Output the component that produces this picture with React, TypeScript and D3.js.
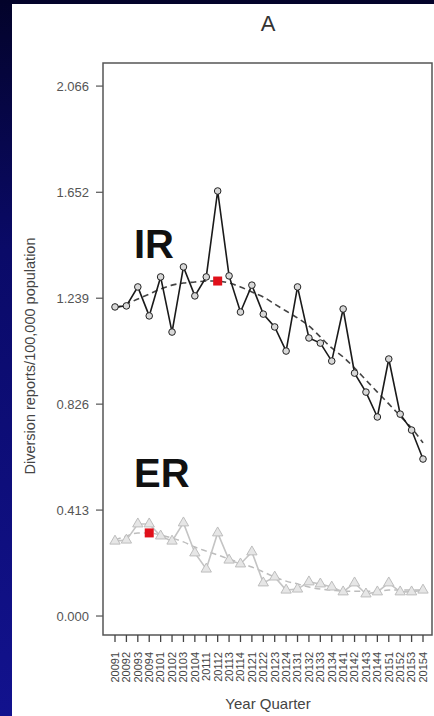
import React from "react";
import * as d3 from "d3";

const quarters = [
  "20091","20092","20093","20094",
  "20101","20102","20103","20104",
  "20111","20112","20113","20114",
  "20121","20122","20123","20124",
  "20131","20132","20133","20134",
  "20141","20142","20143","20144",
  "20151","20152","20153","20154",
];

const irValues = [
  1.205, 1.209, 1.283, 1.170, 1.322, 1.107, 1.361, 1.248,
  1.322, 1.657, 1.326, 1.185, 1.290, 1.177, 1.127, 1.033,
  1.283, 1.084, 1.064, 0.994, 1.197, 0.947, 0.873, 0.776,
  1.002, 0.787, 0.725, 0.612,
];

const irTrend = [
  1.201, 1.216, 1.236, 1.255, 1.275, 1.290, 1.298, 1.302,
  1.306, 1.306, 1.298, 1.283, 1.263, 1.244, 1.216, 1.189,
  1.162, 1.131, 1.088, 1.045, 1.010, 0.967, 0.920, 0.873,
  0.827, 0.780, 0.733, 0.675,
];

const erValues = [
  0.292, 0.296, 0.359, 0.359, 0.312, 0.292, 0.363, 0.246,
  0.183, 0.324, 0.218, 0.203, 0.250, 0.129, 0.152, 0.101,
  0.105, 0.133, 0.125, 0.113, 0.094, 0.129, 0.086, 0.094,
  0.129, 0.094, 0.094, 0.101,
];

const erTrend = [
  0.296, 0.312, 0.324, 0.324, 0.316, 0.304, 0.289, 0.269,
  0.253, 0.238, 0.222, 0.207, 0.191, 0.172, 0.152, 0.136,
  0.125, 0.113, 0.105, 0.101, 0.097, 0.097, 0.097, 0.097,
  0.101, 0.101, 0.101, 0.101,
];

const yTicks = [0.0, 0.413, 0.826, 1.239, 1.652, 2.066];
const irPeakIndex = 9;
const erPeakIndex = 3;
const irPeak = 1.306;
const erPeak = 0.324;

export default function App() {
  const W = 434;
  const H = 716;
  const box = { left: 103, top: 63, right: 432, bottom: 635 };

  const x = d3.scalePoint<string>().domain(quarters).range([115, 423]);
  const y = d3.scaleLinear().domain([-0.074, 2.156]).range([box.bottom, box.top]);

  const line = d3
    .line<number>()
    .x((_, i) => x(quarters[i]) as number)
    .y((d) => y(d));
  const smooth = d3
    .line<number>()
    .curve(d3.curveMonotoneX)
    .x((_, i) => x(quarters[i]) as number)
    .y((d) => y(d));

  const tri = d3.symbol().type(d3.symbolTriangle).size(46)();

  const font = "'Liberation Sans', Arial, sans-serif";

  return (
    <svg
      width={W}
      height={H}
      style={{ position: "absolute", left: 0, top: 0 }}
      fontFamily={font}
    >
      <defs>
        <linearGradient id="bg" x1="0" y1="0" x2="0" y2="1">
          <stop offset="0" stopColor="#03032a" />
          <stop offset="0.35" stopColor="#0a0a68" />
          <stop offset="1" stopColor="#12128e" />
        </linearGradient>
      </defs>
      <rect x={0} y={0} width={W} height={H} fill="url(#bg)" />
      <rect x={12} y={4} width={W - 12} height={H - 4} fill="#ffffff" />

      <text x={268} y={31} textAnchor="middle" fontSize={22} fill="#333">
        A
      </text>

      {/* plot box */}
      <rect
        x={box.left}
        y={box.top}
        width={box.right - box.left}
        height={box.bottom - box.top}
        fill="none"
        stroke="#555"
        strokeWidth={1.5}
      />

      {/* y axis ticks */}
      {yTicks.map((t) => (
        <g key={t}>
          <line x1={96} x2={box.left} y1={y(t)} y2={y(t)} stroke="#555" strokeWidth={1.2} />
          <text
            x={89}
            y={y(t)}
            dy="0.35em"
            textAnchor="end"
            fontSize={13}
            fill="#555"
          >
            {t.toFixed(3)}
          </text>
        </g>
      ))}

      {/* x axis ticks */}
      {quarters.map((q) => (
        <g key={q}>
          <line
            x1={x(q)}
            x2={x(q)}
            y1={box.bottom}
            y2={box.bottom + 7}
            stroke="#444"
            strokeWidth={1.3}
          />
          <text
            transform={`translate(${x(q)},${652}) rotate(-90)`}
            textAnchor="end"
            dy="0.35em"
            fontSize={11}
            fill="#444"
          >
            {q}
          </text>
        </g>
      ))}

      <text x={268} y={709} textAnchor="middle" fontSize={15} fill="#444">
        Year Quarter
      </text>
      <text
        transform={`translate(35,${(box.top + box.bottom) / 2 + 7}) rotate(-90)`}
        textAnchor="middle"
        fontSize={14.5}
        fill="#444"
      >
        Diversion reports/100,000 population
      </text>

      {/* ER series */}
      <path d={smooth(erTrend) || ""} fill="none" stroke="#bdbdbd" strokeWidth={1.5} strokeDasharray="6,4" />
      <path d={line(erValues) || ""} fill="none" stroke="#c4c4c4" strokeWidth={1.6} />
      {erValues.map((v, i) => (
        <path
          key={i}
          d={tri || ""}
          transform={`translate(${x(quarters[i])},${y(v)})`}
          fill="#e6e6e6"
          stroke="#bdbdbd"
          strokeWidth={1}
        />
      ))}

      {/* IR series */}
      <path d={smooth(irTrend) || ""} fill="none" stroke="#444" strokeWidth={1.6} strokeDasharray="6,4" />
      <path d={line(irValues) || ""} fill="none" stroke="#1a1a1a" strokeWidth={1.6} />
      {irValues.map((v, i) => (
        <circle
          key={i}
          cx={x(quarters[i])}
          cy={y(v)}
          r={3.3}
          fill="#d8d8d8"
          stroke="#222"
          strokeWidth={1}
        />
      ))}

      {/* peak markers */}
      <rect
        x={(x(quarters[irPeakIndex]) as number) - 4.5}
        y={y(irPeak) - 4.5}
        width={9}
        height={9}
        fill="#e0101a"
      />
      <rect
        x={(x(quarters[erPeakIndex]) as number) - 4.5}
        y={y(erPeak) - 4.5}
        width={9}
        height={9}
        fill="#e0101a"
      />

      <text x={134} y={258} fontSize={40} fontWeight="bold" fill="#111">
        IR
      </text>
      <text x={134} y={487} fontSize={40} fontWeight="bold" fill="#111">
        ER
      </text>
    </svg>
  );
}
